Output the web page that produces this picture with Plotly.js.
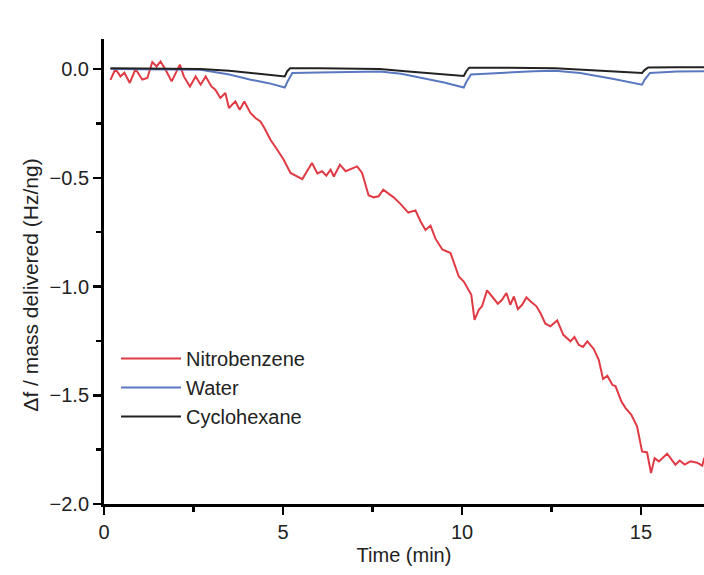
<!DOCTYPE html>
<html>
<head>
<meta charset="utf-8">
<script src="https://cdn.plot.ly/plotly-3.0.1.min.js"></script>
<style>html,body{margin:0;padding:0;background:#fff;}#chart{width:704px;height:575px;}</style>
</head>
<body>
<div id="chart"></div>
<script>
// Nitrobenzene
var nitroT = [0.18,0.32,0.46,0.57,0.72,0.88,1.07,1.21,1.35,1.47,1.58,1.72,1.89,2.12,2.23,2.40,2.56,2.70,2.84,3.00,3.11,3.25,3.39,3.49,3.67,3.79,3.92,4.09,4.23,4.37,4.48,4.65,4.84,5.02,5.21,5.40,5.54,5.67,5.81,5.96,6.09,6.21,6.33,6.42,6.59,6.75,6.90,7.07,7.21,7.39,7.53,7.67,7.80,7.95,8.09,8.28,8.50,8.70,8.84,8.98,9.12,9.26,9.45,9.68,9.91,10.05,10.19,10.26,10.35,10.47,10.56,10.70,10.84,11.00,11.12,11.24,11.35,11.45,11.56,11.68,11.80,11.91,12.08,12.19,12.33,12.47,12.66,12.83,13.03,13.14,13.26,13.38,13.50,13.68,13.82,13.94,14.06,14.20,14.29,14.45,14.57,14.73,14.89,15.03,15.17,15.28,15.38,15.50,15.73,15.96,16.08,16.22,16.38,16.57,16.71,16.77];
var nitroY = [-0.05,0.0,-0.034,-0.017,-0.064,0.0,-0.049,-0.041,0.032,0.012,0.035,-0.003,-0.057,0.02,-0.034,-0.08,-0.034,-0.072,-0.034,-0.08,-0.095,-0.133,-0.11,-0.179,-0.149,-0.187,-0.149,-0.202,-0.225,-0.241,-0.271,-0.325,-0.371,-0.417,-0.478,-0.494,-0.506,-0.47,-0.432,-0.48,-0.47,-0.49,-0.463,-0.494,-0.44,-0.47,-0.46,-0.448,-0.478,-0.58,-0.59,-0.585,-0.555,-0.575,-0.59,-0.62,-0.66,-0.65,-0.70,-0.74,-0.72,-0.78,-0.83,-0.846,-0.954,-0.977,-1.015,-1.038,-1.153,-1.107,-1.091,-1.018,-1.046,-1.079,-1.061,-1.03,-1.084,-1.046,-1.104,-1.084,-1.05,-1.068,-1.091,-1.122,-1.171,-1.183,-1.156,-1.222,-1.252,-1.232,-1.268,-1.278,-1.252,-1.287,-1.337,-1.425,-1.41,-1.452,-1.459,-1.528,-1.559,-1.59,-1.643,-1.758,-1.763,-1.858,-1.789,-1.804,-1.769,-1.819,-1.80,-1.819,-1.804,-1.81,-1.824,-1.787];

// Water
var waterT = [0.18,1.0,2.0,2.7,3.5,4.1,4.6,5.05,5.12,5.26,6.0,7.0,7.7,8.3,8.84,9.5,10.05,10.12,10.25,11.0,12.0,12.6,13.3,14.24,15.03,15.1,15.25,16.0,16.77];
var waterY = [0,0,0,-0.003,-0.025,-0.049,-0.065,-0.085,-0.06,-0.018,-0.016,-0.012,-0.011,-0.022,-0.041,-0.062,-0.085,-0.06,-0.025,-0.018,-0.01,-0.008,-0.018,-0.046,-0.072,-0.05,-0.018,-0.012,-0.01];

// Cyclohexane
var cycloT = [0.18,1,2,2.7,3.5,4.1,4.6,5.05,5.12,5.2,6,7,7.7,8.5,9.45,10.05,10.12,10.2,11,12,12.6,13.5,14.5,15.03,15.1,15.2,16,16.77];
var cycloY = [0.003,0.003,0.002,0,-0.008,-0.018,-0.026,-0.034,-0.01,0.004,0.004,0.003,0.0,-0.012,-0.026,-0.032,-0.01,0.006,0.006,0.005,0.004,-0.005,-0.013,-0.018,-0.005,0.007,0.008,0.008];

var seriesNames = ['Nitrobenzene','Water','Cyclohexane'];
var xTickVals = [0,5,10,15];
var yTickVals = [0,-0.5,-1.0,-1.5,-2.0];
var xTitle = 'Time (min)';
var yTitle = 'Δf / mass delivered (Hz/ng)';

var FONT = 'Liberation Sans, Arial, sans-serif';

var traces = [
  {x: nitroT, y: nitroY, name: seriesNames[0], mode: 'lines', line: {color: '#e03a44', width: 2}},
  {x: waterT, y: waterY, name: seriesNames[1], mode: 'lines', line: {color: '#5a78c0', width: 2}},
  {x: cycloT, y: cycloY, name: seriesNames[2], mode: 'lines', line: {color: '#222222', width: 2}}
];

var layout = {
  width: 704, height: 575,
  margin: {l: 104, r: 0, t: 39, b: 71},
  paper_bgcolor: '#fff', plot_bgcolor: '#fff',
  font: {family: FONT, size: 20, color: '#222'},
  showlegend: true,
  legend: {x: 0.02, y: 0.355, xanchor: 'left', yanchor: 'top', bgcolor: 'rgba(0,0,0,0)',
           font: {family: FONT, size: 20, color: '#222'}, itemwidth: 60, tracegroupgap: 0},
  xaxis: {
    range: [0, 16.76], showline: true, linewidth: 3, linecolor: '#000',
    showgrid: false, zeroline: false,
    ticks: 'outside', ticklen: 8, tickwidth: 2.5, tickcolor: '#000',
    tickvals: xTickVals, ticktext: xTickVals.map(String),
    tickfont: {family: FONT, size: 20, color: '#222'},
    minor: {dtick: 2.5, ticks: 'outside', ticklen: 5, tickwidth: 2.5, tickcolor: '#000', showgrid: false},
    title: {text: xTitle, font: {family: FONT, size: 20, color: '#222'}, standoff: 6}
  },
  yaxis: {
    range: [-2.0, 0.138], showline: true, linewidth: 3, linecolor: '#000',
    showgrid: false, zeroline: false,
    ticks: 'outside', ticklen: 8, tickwidth: 2.5, tickcolor: '#000',
    tickvals: yTickVals, tickformat: '.1f',
    tickfont: {family: FONT, size: 20, color: '#222'},
    minor: {dtick: 0.25, ticks: 'outside', ticklen: 5, tickwidth: 2.5, tickcolor: '#000', showgrid: false}
  },
  annotations: [{
    text: yTitle, xref: 'paper', yref: 'paper', x: -0.123, y: 0.47,
    xanchor: 'center', yanchor: 'middle', textangle: -90, showarrow: false,
    font: {family: FONT, size: 21, color: '#222'}
  }]
};

Plotly.newPlot('chart', traces, layout, {displayModeBar: false, staticPlot: true});
</script>
</body>
</html>
